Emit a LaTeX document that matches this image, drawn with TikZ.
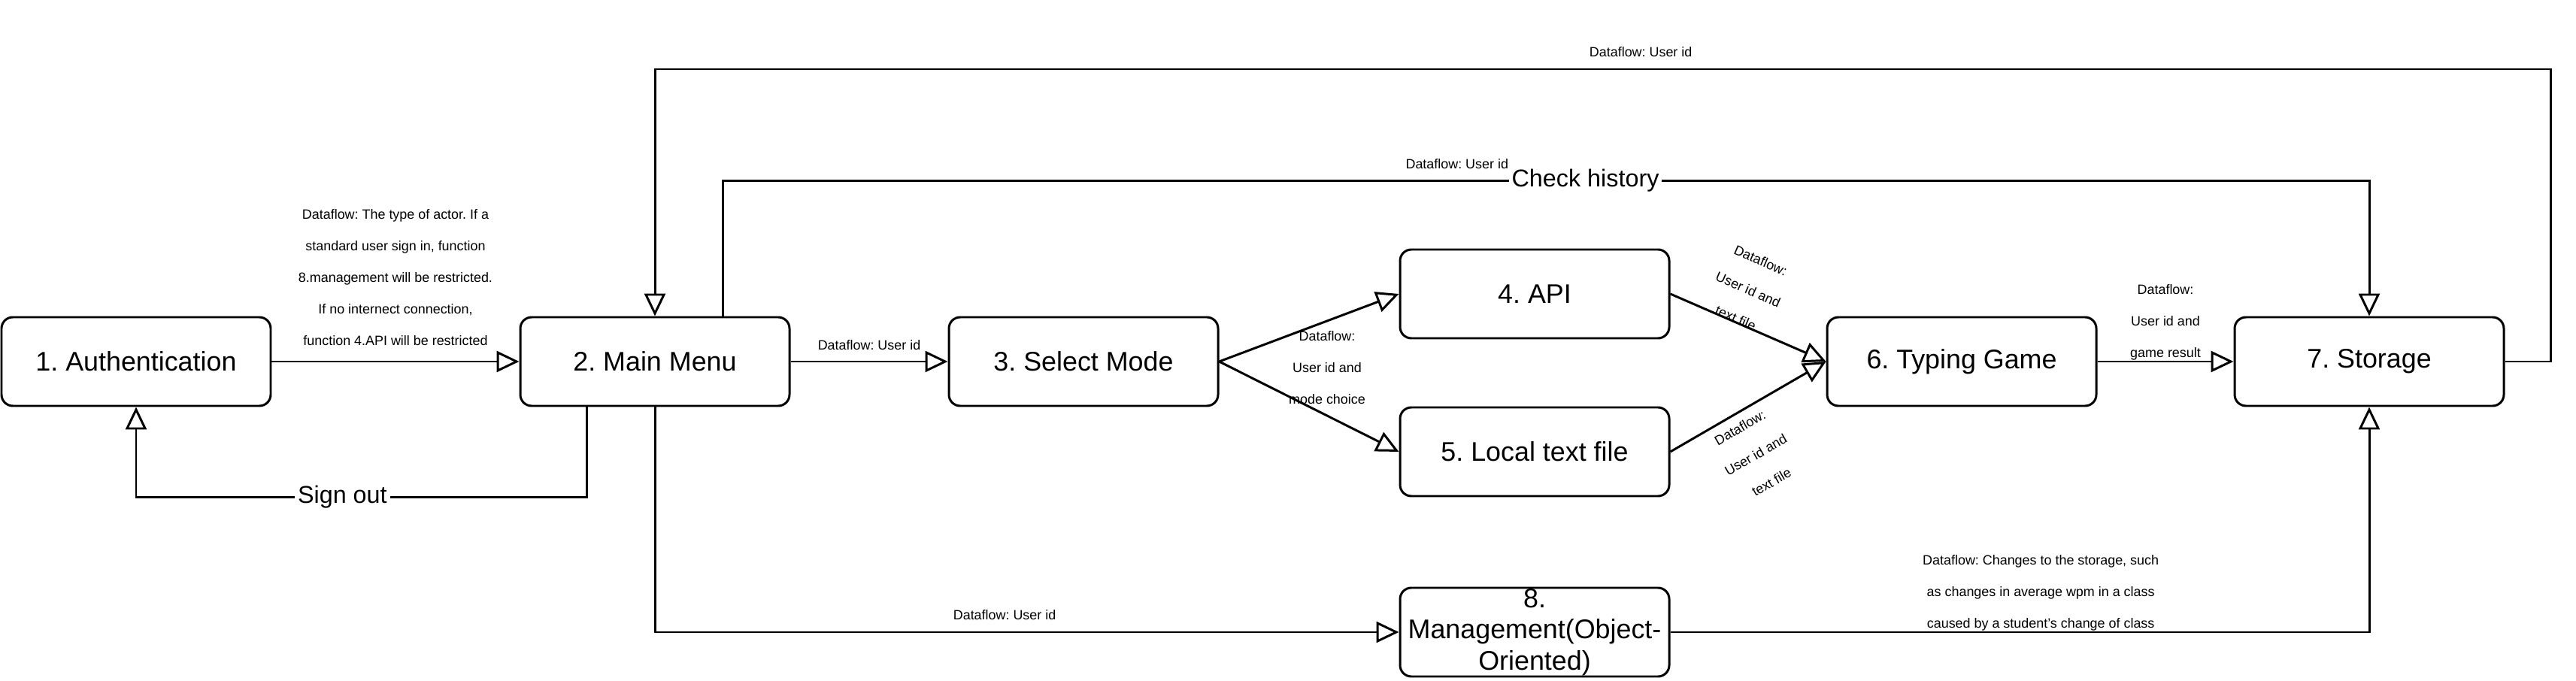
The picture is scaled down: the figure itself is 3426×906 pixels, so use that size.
\documentclass[tikz,border=0pt]{standalone}
\usepackage{fontspec}
\setmainfont{Liberation Sans}
\usetikzlibrary{arrows.meta}

\begin{document}
\frenchspacing
\begin{tikzpicture}[x=0.1mm,y=-0.1mm]
  \tikzset{ProcessStyle/.style = {
    shape           = rectangle,
    rounded corners = 1.5mm,
    draw            = black,
    fill            = white,
    line width      = 0.85pt,
    text            = black,
    align           = center,
    inner sep       = 0pt,
    minimum width   = 35.8mm,
    minimum height  = 11.8mm,
    font            = \fontsize{10.2}{11.8}\selectfont
    }
  }
  \tikzset{FlowStyle/.style = {
    draw       = black,
    line width = 0.85pt,
    arrows     = -{Triangle[open,length=3mm,width=2.8mm]}
    }
  }
  \tikzset{FlowLabelStyle/.style = {
    text      = black,
    align     = center,
    inner sep = 0pt,
    font      = \fontsize{5.1}{11.9}\selectfont
    }
  }
  \tikzset{NoteStyle/.style = {
    text      = black,
    fill      = white,
    inner sep = 0.4mm,
    font      = \fontsize{9.2}{11}\selectfont
    }
  }

  \useasboundingbox (0,0) rectangle (3426,906);

	\node[ProcessStyle](N1) at (181,481) {1. Authentication};
	\node[ProcessStyle](N2) at (871,481) {2. Main Menu};
	\node[ProcessStyle](N3) at (1441,481) {3. Select Mode};
	\node[ProcessStyle](N4) at (2041,391) {4. API};
	\node[ProcessStyle](N5) at (2041,601) {5. Local text file};
	\node[ProcessStyle](N6) at (2609,481) {6. Typing Game};
	\node[ProcessStyle](N7) at (3151,481) {7. Storage};
	\node[ProcessStyle](N8) at (2041,841) {8.\\Management(Object-\\Oriented)};

	\draw[FlowStyle](N1.east) -- node[FlowLabelStyle, yshift=11.2mm](L12){Dataflow: The type of actor. If a\\standard user sign in, function\\8.management will be restricted.\\If no internect connection,\\function 4.API will be restricted} (N2.west);
	\draw[FlowStyle]([xshift=-9.1mm]N2.south) -- ++(0,120) -| node[NoteStyle, pos=0.271](S21){Sign out} (N1.south);
	\draw[FlowStyle](N2.east) -- node[FlowLabelStyle, yshift=2.2mm](L23){Dataflow: User id} (N3.west);
	\draw[FlowStyle](N3.east) -- (N4.west);
	\draw[FlowStyle](N3.east) -- node[FlowLabelStyle, xshift=2.4mm, yshift=5.2mm](L35){Dataflow:\\User id and\\mode choice} (N5.west);
	\draw[FlowStyle](N4.east) -- node[FlowLabelStyle, yshift=5.1mm, rotate=-23.4](L46){Dataflow:\\User id and\\text file} (N6.west);
	\draw[FlowStyle](N5.east) -- node[FlowLabelStyle, xshift=1mm, yshift=-6.4mm, rotate=30](L56){Dataflow:\\User id and\\text file} (N6.west);
	\draw[FlowStyle](N6.east) -- node[FlowLabelStyle, yshift=5.2mm](L67){Dataflow:\\User id and\\game result} (N7.west);
	\draw[FlowStyle](N7.east) -- ++(61,0) -- ++(0,-389) -| node[FlowLabelStyle, pos=0.24, yshift=2.3mm](L72){Dataflow: User id} (N2.north);
	\draw[FlowStyle]([xshift=9mm]N2.north) -- ++(0,-180) -| node[FlowLabelStyle, pos=0.223, yshift=2.2mm](L27){Dataflow: User id} node[NoteStyle, pos=0.262](H27){Check history} (N7.north);
	\draw[FlowStyle](N2.south) |- node[FlowLabelStyle, pos=0.735, yshift=2.3mm](L28){Dataflow: User id} (N8.west);
	\draw[FlowStyle](N8.east) -| node[FlowLabelStyle, pos=0.265, yshift=5.2mm](L87){Dataflow: Changes to the storage, such\\as changes in average wpm in a class\\caused by a student's change of class} (N7.south);

\end{tikzpicture}
\end{document}
